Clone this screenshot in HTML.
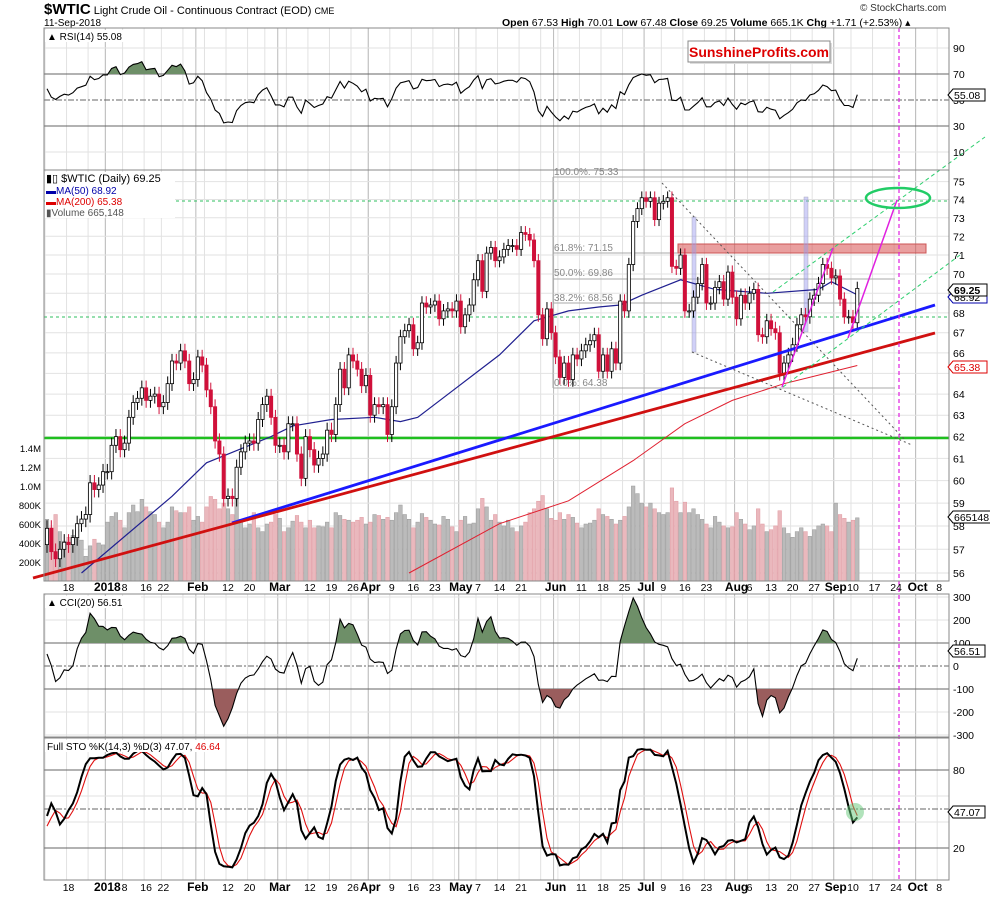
<!DOCTYPE html>
<html><head><meta charset="utf-8"><style>
body{margin:0;background:#fff;}
svg{display:block;font-family:"Liberation Sans",sans-serif;}
</style></head><body>
<svg id="chart" width="990" height="897" viewBox="0 0 990 897" xmlns="http://www.w3.org/2000/svg">
<rect x="0" y="0" width="990" height="897" fill="#fff"/>
<text x="44" y="14" font-size="11"><tspan font-weight="bold" font-size="15">$WTIC</tspan> Light Crude Oil - Continuous Contract (EOD) <tspan font-size="9">CME</tspan></text>
<text x="44" y="26" font-size="10">11-Sep-2018</text>
<text x="860" y="11" font-size="10" fill="#333">© StockCharts.com</text>
<text x="502" y="26" font-size="10.5"><tspan font-weight="bold">Open</tspan> 67.53  <tspan font-weight="bold">High</tspan> 70.01  <tspan font-weight="bold">Low</tspan> 67.48  <tspan font-weight="bold">Close</tspan> 69.25  <tspan font-weight="bold">Volume</tspan> 665.1K  <tspan font-weight="bold">Chg</tspan> +1.71 (+2.53%) ▴</text>
<g id="grid"></g>
<g id="volLayer"></g>
<!-- static annotations under candles -->
<g>
<line x1="44" y1="438" x2="949" y2="438" stroke="#1fbf1f" stroke-width="2.5"/>
<line x1="44" y1="201" x2="949" y2="201" stroke="#2fbf5f" stroke-dasharray="3,3"/>
<line x1="44" y1="317" x2="949" y2="317" stroke="#2fbf5f" stroke-dasharray="3,3"/>
<g stroke="#aaa" stroke-width="1">
<line x1="553" y1="177" x2="895" y2="177"/><line x1="553" y1="253" x2="895" y2="253"/><line x1="553" y1="279" x2="895" y2="279"/><line x1="553" y1="303" x2="895" y2="303"/><line x1="553" y1="388" x2="895" y2="388"/>
<line x1="553" y1="177" x2="553" y2="388"/>
</g>
<g font-size="10" fill="#888">
<text x="554" y="175">100.0%: 75.33</text><text x="554" y="251">61.8%: 71.15</text><text x="554" y="276">50.0%: 69.86</text><text x="554" y="301">38.2%: 68.56</text><text x="554" y="386">0.0%: 64.38</text>
</g>
<rect x="678" y="244" width="248" height="9" fill="rgba(215,80,80,0.55)" stroke="#c55" stroke-width="1"/>
<rect x="692" y="217" width="4" height="135" fill="rgba(150,150,240,0.45)" stroke="#aab" stroke-width="0.5"/>
<rect x="804" y="197" width="4" height="135" fill="rgba(150,150,240,0.45)" stroke="#aab" stroke-width="0.5"/>
</g>
<g id="maLayer"></g>
<g id="candleLayer"></g>
<g>
<line x1="232" y1="523" x2="935" y2="305" stroke="#1a1aff" stroke-width="2.8"/>
<line x1="33" y1="578" x2="935" y2="333" stroke="#d01010" stroke-width="2.8"/>
<line x1="662" y1="183" x2="906" y2="441" stroke="#555" stroke-dasharray="2,3"/>
<line x1="692" y1="352" x2="912" y2="445" stroke="#555" stroke-dasharray="2,3"/>
<line x1="773" y1="292" x2="985" y2="137" stroke="#2fcf6f" stroke-dasharray="4,3"/>
<line x1="783" y1="387" x2="960" y2="255" stroke="#2fcf6f" stroke-dasharray="4,3"/>
<line x1="782" y1="387" x2="833" y2="248" stroke="#e020e0" stroke-width="1.5"/>
<line x1="848" y1="338" x2="897" y2="200" stroke="#e020e0" stroke-width="1.5"/>
<ellipse cx="898" cy="198" rx="32" ry="10" fill="none" stroke="#22cc66" stroke-width="2.5"/>
</g>
<g id="indLayer"></g>
<line x1="899" y1="28" x2="899" y2="880" stroke="#e020e0" stroke-width="1.2" stroke-dasharray="4,3"/>
<circle cx="855" cy="812" r="9" fill="rgba(100,200,120,0.5)"/>
<g fill="none" stroke="#888">
<rect x="44" y="28" width="905" height="142"/><rect x="44" y="170" width="905" height="411"/><rect x="44" y="594" width="905" height="143"/><rect x="44" y="738" width="905" height="142"/>
</g>
<rect x="690" y="43" width="142" height="21" fill="#ddd"/>
<rect x="688" y="41" width="142" height="21" fill="#fff" stroke="#888"/>
<text x="759" y="57" font-size="14" font-weight="bold" fill="#d00" text-anchor="middle">SunshineProfits.com</text>
<g font-size="10">
<rect x="45" y="30" width="86" height="12" fill="#fff"/>
<text x="47" y="40">▲ RSI(14) 55.08</text>
<rect x="45" y="172" width="130" height="46" fill="#fff"/>
<text x="46" y="182" font-size="11">▮▯ $WTIC (Daily) 69.25</text>
<text x="46" y="194" fill="#00a">▬MA(50) 68.92</text>
<text x="46" y="205" fill="#d00">▬MA(200) 65.38</text>
<text x="46" y="216" fill="#555">▮Volume 665,148</text>
<rect x="45" y="596" width="96" height="12" fill="#fff"/>
<text x="47" y="606">▲ CCI(20) 56.51</text>
<rect x="45" y="740" width="170" height="12" fill="#fff"/>
<text x="47" y="750">Full STO %K(14,3) %D(3) 47.07, <tspan fill="#d00">46.64</tspan></text>
</g>
<g id="axisLayer" font-size="10.5"></g>
<g font-size="10.5">
<path d="M948,95 l5,-6 h32 v12 h-32z" fill="#fff" stroke="#000"/><text x="954" y="99">55.08</text>
<path d="M948,297 l5,-6 h34 v12 h-34z" fill="#fff" stroke="#00a"/><text x="954" y="301">68.92</text>
<path d="M948,290 l5,-6 h34 v12 h-34z" fill="#fff" stroke="#000"/><text x="954" y="294" font-weight="bold">69.25</text>
<path d="M948,367 l5,-6 h34 v12 h-34z" fill="#fff" stroke="#d00"/><text x="954" y="371" fill="#d00">65.38</text>
<path d="M948,517 l5,-6 h38 v12 h-38z" fill="#fff" stroke="#000"/><text x="954" y="521">665148</text>
<path d="M948,651 l5,-6 h32 v12 h-32z" fill="#fff" stroke="#000"/><text x="954" y="655">56.51</text>
<path d="M948,812 l5,-6 h32 v12 h-32z" fill="#fff" stroke="#000"/><text x="954" y="816">47.07</text>
</g>
</svg>
<script>
// ---- data ----
const preCloses = [55.7,55.3,55.1,55.3,56.1,56.7,56.1,56.6,57.0,58.0,58.0,58.4,57.3,57.4,56.8,58.4,58.4,57.4,57.6,56.7,56.0,57.2];
const closes = [57.9,56.9,56.6,57.0,57.3, 57.2,57.5,58.1,58.3,58.5, 59.9,59.6,59.8,60.4,
60.4,61.6,62.0,61.4, 61.7,62.9,63.6,63.8,64.3, 63.7,63.9,64.0,63.4, 63.6,64.5,65.6,65.5,66.1,
65.6,64.5,64.7,65.8,65.4, 64.2,63.4,61.8,61.2,59.2, 59.3,59.2,60.6,61.3,61.7, 61.8,61.7,62.8,63.5,
63.9,62.9,61.6,61.6,61.3, 62.6,62.6,61.2,60.1,62.0, 61.4,60.7,61.0,61.2,62.3, 62.1,63.5,65.2,64.3,65.9,
65.6,65.2,64.4,64.9, 63.0,63.5,63.4,63.5,62.1, 63.4,65.5,66.8,67.1,67.4, 66.2,66.5,68.5,68.3,68.4,
68.6,67.7,68.1,68.2,68.1, 68.6,67.3,67.9,68.4,69.7, 70.7,69.1,71.1,71.4,70.7, 70.9,71.3,71.5,71.5,71.3,
72.2,72.1,71.8,70.7,67.9, 66.7,68.2,67.0,65.8, 64.8,65.5,64.7,65.9,65.7, 66.1,66.4,66.6,66.9,65.1,
65.9,65.1,66.2,65.5,68.6, 68.1,70.5,72.8,73.5,74.1, 73.9,74.1,72.9,73.8, 73.9,74.1,70.4,70.3,71.0,
68.1,68.1,68.8,69.5,70.5, 68.5,68.5,69.3,69.6,68.7, 70.1,68.8,67.7,68.9,68.5, 69.0,69.2,66.9,66.8,67.6,
67.2,67.0,65.0,65.5,65.9, 66.4,67.4,67.9,67.8,68.7, 68.9,69.5,70.5,70.3,69.8, 69.9,68.7,67.8,67.8, 67.5,69.25];
const volumesK = [650,560,700,520,420, 460,480,540,430,260, 370,440,400,380, 620,680,720,640, 560,720,800,730,860,
780,730,700,620, 560,620,780,740,720, 720,780,640,680,620, 780,890,860,760,820, 760,700,860,650,560, 600,720,560,520,
600,620,700,660,520, 560,630,690,620,560, 640,560,580,570,620, 560,720,690,650,640, 620,640,670,600, 620,700,690,650,670,
640,720,800,700,650, 560,620,710,670,640, 600,590,680,650,570, 520,640,680,600,610, 760,870,780,640,700, 620,580,640,560,520,
580,620,720,760,840, 900,760,660,640, 720,650,700,670,610, 560,600,610,640,760, 700,680,650,600,640, 680,780,1000,920,820,
780,820,760,720, 700,720,980,840,720, 830,720,760,700,650, 600,560,680,620,580, 560,570,720,650,600, 540,580,760,600,520,
540,580,740,560,500, 460,520,560,520,470, 540,580,600,580,520, 820,700,660,620, 640,665];
const ma50Idx = [8,29,37,52,57,66,76,82,86,95,105,113,121,128,133,138,147,155,167,179,182,188];
const ma50Val = [56,59.3,60.8,62.0,62.5,62.8,62.9,62.7,62.9,64.3,65.9,67.6,68.1,68.3,68.4,68.9,69.7,69.2,69.0,69.2,69.6,68.92];
const ma200Idx = [84,105,121,136,148,159,171,188];
const ma200Val = [56,58.1,59.1,60.9,62.6,63.7,64.5,65.38];
const tickIdx = [5,14,18,23,27,35,42,47,54,61,66,71,75,80,85,90,96,100,105,110,118,124,129,134,139,143,148,153,160,163,168,173,178,183,187,192,197,202,207];
const tickLabels = ["18","2018","8","16","22","Feb","12","20","Mar","12","19","26","Apr","9","16","23","May","7","14","21","Jun","11","18","25","Jul","9","16","23","Aug","6","13","20","27","Sep","10","17","24","Oct","8"];
const boldTicks = ["2018","Feb","Mar","Apr","May","Jun","Jul","Aug","Sep","Oct"];
const weekIdx = [0,5,10,14,18,23,27,32,37,42,47,51,56,61,66,71,75,80,85,90,95,100,105,110,115,119,124,129,134,139,143,148,153,158,163,168,173,178,183,187,192,197,202,207];
const priceTicks = [56,57,58,59,60,61,62,63,64,65,66,67,68,69,70,71,72,73,74,75];
const volTicks = [200,400,600,800,1000,1200,1400];
const volTickLabels = ["200K","400K","600K","800K","1.0M","1.2M","1.4M"];

// ---- scales ----
const NS="http://www.w3.org/2000/svg";
const X = i => 47 + i*4.31;
const Py = p => 5967 - 1340*Math.log(p);
const Vy = v => 581 - v*0.095;
const Ry = r => 100 - (r-50)*1.3;
const Cy = c => 666 - c*0.23;
const Sy = s => 874 - s*1.3;
function mk(tag, attrs, parent){const e=document.createElementNS(NS,tag);for(const k in attrs)e.setAttribute(k,attrs[k]);parent.appendChild(e);return e;}
const grid=document.getElementById('grid'), volL=document.getElementById('volLayer'), maL=document.getElementById('maLayer'),
 cL=document.getElementById('candleLayer'), indL=document.getElementById('indLayer'), axL=document.getElementById('axisLayer');

// grid
const monthSet = new Set([14,35,54,75,96,118,139,160,183,202]);
weekIdx.forEach(i=>{[[28,170],[170,581],[594,737],[738,880]].forEach(([a,b])=>{
 const g=mk('line',{x1:X(i)-2,y1:a,x2:X(i)-2,y2:b,stroke:'#e2e2e2'},grid);
 
 });});
tickIdx.forEach((i,k)=>{ if(boldTicks.includes(tickLabels[k])) [[28,170],[170,581],[594,737],[738,880]].forEach(([a,b])=>{
 const g=mk('line',{x1:X(i)-2,y1:a,x2:X(i)-2,y2:b,stroke:'#bbb'},grid);
 
 });});
priceTicks.forEach(p=>{const g=mk('line',{x1:44,y1:Py(p),x2:949,y2:Py(p),stroke:'#e2e2e2'},grid);
 
 
 if(p!==65&&p!==69){const t=mk('text',{x:953,y:Py(p)+4},axL);t.textContent=p;
 
 }});
volTicks.forEach((v,k)=>{const t=mk('text',{x:41,y:Vy(v)+4,'text-anchor':'end','font-size':'9.5'},axL);t.textContent=volTickLabels[k];
 
 });
function hline(y,dark,dash,name){const l=mk('line',{x1:44,y1:y,x2:949,y2:y,stroke:dark?'#666':'#e2e2e2'},grid);if(dash)l.setAttribute('stroke-dasharray','6,2,2,2');
 
 }
[[90,0],[70,1],[50,2],[30,1],[10,0]].forEach(([v,d])=>{hline(Ry(v),d>0,d===2,'rsi-level-line');const t=mk('text',{x:953,y:Ry(v)+4},axL);t.textContent=v;
 
 });
[[300,0],[200,0],[100,1],[0,2],[-100,1],[-200,0],[-300,0]].forEach(([v,d])=>{hline(Cy(v),d>0,d===2,'cci-level-line');const t=mk('text',{x:953,y:Cy(v)+4},axL);t.textContent=v;
 
 });
[[80,1],[60,0],[50,2],[40,0],[20,1]].forEach(([v,d])=>{hline(Sy(v),d>0,d===2,'sto-level-line');if(v%30!==0||v===80||v===20){if(v===60||v===40)return;const t=mk('text',{x:953,y:Sy(v)+4},axL);t.textContent=v;
 
 }});
// x-axis labels
[591,891].forEach(yy=>{tickIdx.forEach((i,k)=>{const b=boldTicks.includes(tickLabels[k]);
 const t=mk('text',{x:X(i),y:yy,'text-anchor':'middle','font-weight':b?'bold':'normal','font-size':b?'12':'10.5'},axL);t.textContent=tickLabels[k];
 
 });});

// OHLC derived
const all = preCloses.concat(closes), off = preCloses.length;
const O=all.map((c,i)=>i?all[i-1]:c), H=all.map((c,i)=>Math.max(O[i],c)+0.35), L=all.map((c,i)=>Math.min(O[i],c)-0.35);

// volume
closes.forEach((c,i)=>{const up=c>=all[off+i-1];
 const r=mk('rect',{x:X(i)-1.8,y:Vy(volumesK[i]),width:3.6,height:581-Vy(volumesK[i]),fill:up?'#bbb':'#eab8bd',stroke:up?'#999':'#e09aa2','stroke-width':0.5},volL);
 
 });
// MAs
function path(idx,val,col,w,name){const d=idx.map((i,k)=>(k?'L':'M')+X(i).toFixed(1)+','+Py(val[k]).toFixed(1)).join('');
 const p=mk('path',{d:d,fill:'none',stroke:col,'stroke-width':w},maL);
 
 }
path(ma50Idx,ma50Val,'#202090',1.2,'ma50-line');
path(ma200Idx,ma200Val,'#e02030',1,'ma200-line');
// candles
closes.forEach((c,i)=>{const j=off+i,o=O[j],up=c>=o,x=X(i),col=up?'#000':'#d0103a';
 const g=mk('g',{},cL);
 
 
 mk('line',{x1:x,y1:Py(H[j]),x2:x,y2:Py(L[j]),stroke:col},g);
 const top=Py(Math.max(o,c)),bh=Math.max(1,Py(Math.min(o,c))-top);
 mk('rect',{x:x-1.6,y:top,width:3.2,height:bh,fill:up?'#fff':'#d0103a',stroke:col,'stroke-width':0.8},g);});

// indicators
const n=all.length;
// RSI14
const rsi=new Array(n).fill(null);let ag=0,al=0;
for(let i=1;i<=14;i++){const d=all[i]-all[i-1];ag+=Math.max(d,0);al+=Math.max(-d,0);}ag/=14;al/=14;rsi[14]=100-100/(1+ag/(al||1e-9));
for(let i=15;i<n;i++){const d=all[i]-all[i-1];ag=(ag*13+Math.max(d,0))/14;al=(al*13+Math.max(-d,0))/14;rsi[i]=100-100/(1+ag/(al||1e-9));}
// CCI20
const tp=all.map((c,i)=>(H[i]+L[i]+c)/3),cci=new Array(n).fill(null);
for(let i=19;i<n;i++){let s=0;for(let k=i-19;k<=i;k++)s+=tp[k];const m=s/20;let md=0;for(let k=i-19;k<=i;k++)md+=Math.abs(tp[k]-m);md/=20;cci[i]=(tp[i]-m)/(0.015*md);}
// STO
const raw=new Array(n).fill(null);for(let i=13;i<n;i++){let hh=-1e9,ll=1e9;for(let k=i-13;k<=i;k++){hh=Math.max(hh,H[k]);ll=Math.min(ll,L[k]);}raw[i]=(all[i]-ll)/(hh-ll)*100;}
const sma3=a=>a.map((v,i)=>(i>=2&&a[i-2]!=null&&v!=null)?(a[i]+a[i-1]+a[i-2])/3:null);
const K=sma3(raw),D=sma3(K);
function ipath(arr,sc,col,w,name){const pts=[];closes.forEach((c,i)=>{const v=arr[off+i];if(v!=null)pts.push([X(i),sc(v)]);});
 const p=mk('path',{d:pts.map((q,k)=>(k?'L':'M')+q[0].toFixed(1)+','+q[1].toFixed(1)).join(''),fill:'none',stroke:col,'stroke-width':w},indL);
 
 return pts;}
function fill(pts,yb,above,col,name,clipId,y0,y1){const cp=mk('clipPath',{id:clipId},indL);mk('rect',{x:44,y:y0,width:905,height:y1-y0},cp);
 const d='M'+pts[0][0]+','+yb+pts.map(q=>'L'+q[0].toFixed(1)+','+q[1].toFixed(1)).join('')+'L'+pts[pts.length-1][0]+','+yb+'Z';
 const p=mk('path',{d:d,fill:col,'clip-path':'url(#'+clipId+')'},indL);
 
 }
function pts(arr,sc){const r=[];closes.forEach((c,i)=>{const v=arr[off+i];if(v!=null)r.push([X(i),sc(v)]);});return r;}
const rp=pts(rsi,Ry);fill(rp,Ry(70),true,'#6e8f68','rsi-overbought-fill','clipR',28,Ry(70));
const cp=pts(cci,Cy);fill(cp,Cy(100),true,'#6e8f68','cci-high-fill','clipC1',594,Cy(100));fill(cp,Cy(-100),false,'#9a5d5d','cci-low-fill','clipC2',Cy(-100),737);
ipath(rsi,Ry,'#000',1.1,'rsi-line');
ipath(cci,Cy,'#000',1.1,'cci-line');
ipath(D,Sy,'#e01010',1.1,'sto-d-line');
ipath(K,Sy,'#000',2,'sto-k-line');
</script>
</body></html>
